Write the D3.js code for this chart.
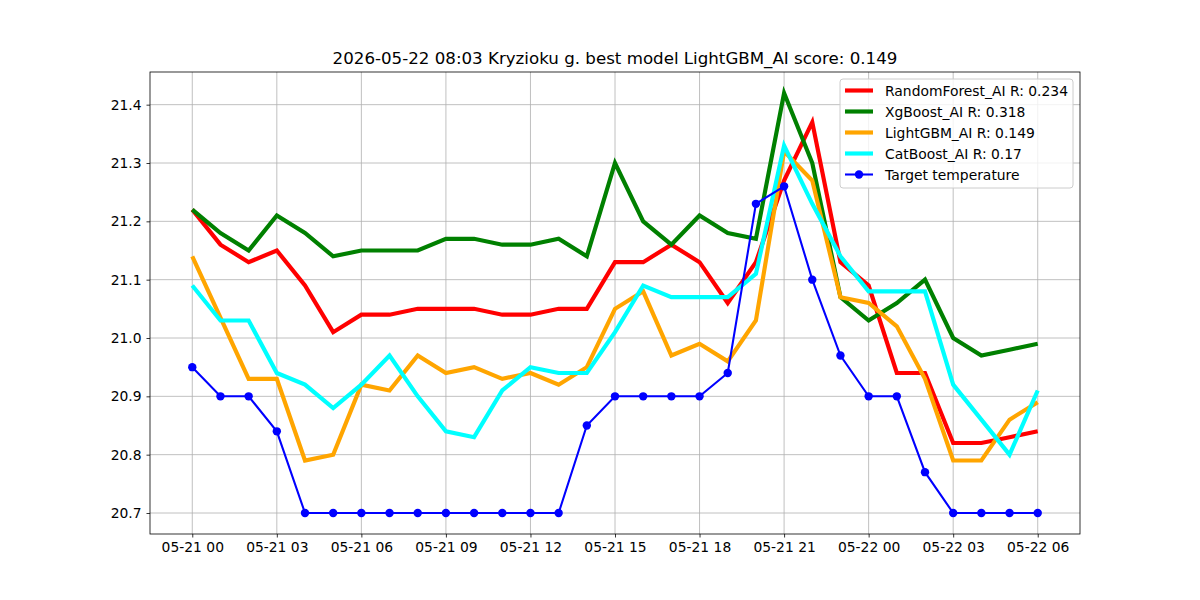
<!DOCTYPE html>
<html>
<head>
<meta charset="utf-8">
<script src="https://cdn.jsdelivr.net/npm/d3@7"></script>
<style>
  body { margin: 0; background: #fff; }
  svg { font-family: "DejaVu Sans", sans-serif; }
</style>
</head>
<body>
<div id="chart"></div>
<script>
// hourly points, 2026-05-21 00:00 .. 2026-05-22 06:00
var startTime = new Date(2026, 4, 21, 0, 0);
var hours = d3.range(31);

var randomForest = [21.22, 21.16, 21.13, 21.15, 21.09, 21.01, 21.04, 21.04, 21.05, 21.05,
  21.05, 21.04, 21.04, 21.05, 21.05, 21.13, 21.13, 21.16, 21.13, 21.06,
  21.13, 21.27, 21.37, 21.13, 21.09, 20.94, 20.94, 20.82, 20.82, 20.83, 20.84];
var xgBoost = [21.22, 21.18, 21.15, 21.21, 21.18, 21.14, 21.15, 21.15, 21.15, 21.17,
  21.17, 21.16, 21.16, 21.17, 21.14, 21.30, 21.20, 21.16, 21.21, 21.18,
  21.17, 21.42, 21.30, 21.07, 21.03, 21.06, 21.10, 21.00, 20.97, 20.98, 20.99];
var lightGBM = [21.14, 21.035, 20.93, 20.93, 20.79, 20.80, 20.92, 20.91, 20.97, 20.94,
  20.95, 20.93, 20.94, 20.92, 20.95, 21.05, 21.08, 20.97, 20.99, 20.96,
  21.03, 21.32, 21.27, 21.07, 21.06, 21.02, 20.93, 20.79, 20.79, 20.86, 20.89];
var catBoost = [21.09, 21.03, 21.03, 20.94, 20.92, 20.88, 20.92, 20.97, 20.90, 20.84,
  20.83, 20.91, 20.95, 20.94, 20.94, 21.01, 21.09, 21.07, 21.07, 21.07,
  21.11, 21.33, 21.23, 21.14, 21.08, 21.08, 21.08, 20.92, 20.86, 20.80, 20.91];
var target = [20.95, 20.90, 20.90, 20.84, 20.70, 20.70, 20.70, 20.70, 20.70, 20.70,
  20.70, 20.70, 20.70, 20.70, 20.85, 20.90, 20.90, 20.90, 20.90, 20.94,
  21.23, 21.26, 21.10, 20.97, 20.90, 20.90, 20.77, 20.70, 20.70, 20.70, 20.70];

var seriesNames = ["RandomForest_AI R: 0.234", "XgBoost_AI R: 0.318", "LightGBM_AI R: 0.149", "CatBoost_AI R: 0.17"];
var seriesColors = ["#ff0000", "#008000", "#ffa500", "#00ffff"];
var targetName = "Target temperature";
var titleText = "2026-05-22 08:03 Kryzioku g. best model LightGBM_AI score: 0.149";
var yTicks = [20.7, 20.8, 20.9, 21.0, 21.1, 21.2, 21.3, 21.4];

var times = hours.map(h => d3.timeHour.offset(startTime, h));
var models = [randomForest, xgBoost, lightGBM, catBoost];

var width = 1200, height = 600;
var margin = {top: 72, right: 120, bottom: 66, left: 150};
var w = width - margin.left - margin.right,
    h = height - margin.top - margin.bottom;
var fs = "13.89px";

var svg = d3.select("#chart").append("svg")
    .attr("width", width)
    .attr("height", height);

var g = svg.append("g")
    .attr("transform", "translate(" + margin.left + "," + margin.top + ")");

// matplotlib-style 5% padding
var t0 = times[0], t1 = times[times.length - 1];
var pad = (t1 - t0) * 0.05;
var x = d3.scaleTime()
    .domain([new Date(+t0 - pad), new Date(+t1 + pad)])
    .range([0, w]);

var allVals = models.flat().concat(target);
var ymin = d3.min(allVals), ymax = d3.max(allVals);
var ypad = (ymax - ymin) * 0.05;
var y = d3.scaleLinear()
    .domain([ymin - ypad, ymax + ypad])
    .range([h, 0]);

var xTicks = times.filter((d, i) => i % 3 === 0);
var fmt = d3.timeFormat("%m-%d %H");

// grid
g.append("g").selectAll("line").data(xTicks).enter().append("line")
    .attr("x1", d => x(d)).attr("x2", d => x(d))
    .attr("y1", 0).attr("y2", h)
    .attr("stroke", "#b0b0b0").attr("stroke-width", 0.8);
g.append("g").selectAll("line").data(yTicks).enter().append("line")
    .attr("x1", 0).attr("x2", w)
    .attr("y1", d => y(d)).attr("y2", d => y(d))
    .attr("stroke", "#b0b0b0").attr("stroke-width", 0.8);

// axes
var xAxis = g.append("g")
    .attr("transform", "translate(0," + h + ")")
    .call(d3.axisBottom(x).tickValues(xTicks).tickFormat(fmt).tickSize(3.5).tickPadding(4.9));
var yAxis = g.append("g")
    .call(d3.axisLeft(y).tickValues(yTicks).tickFormat(d3.format(".1f")).tickSize(3.5).tickPadding(4.9));
[xAxis, yAxis].forEach(a => {
  a.select(".domain").remove();
  a.selectAll("text").attr("font-size", fs).attr("fill", "#000")
    .attr("font-family", "DejaVu Sans, sans-serif");
  a.selectAll("line").attr("stroke", "#000").attr("stroke-width", 0.8);
});

var line = d3.line()
    .x((d, i) => x(times[i]))
    .y(d => y(d));

models.forEach((vals, k) => {
  g.append("path")
    .datum(vals)
    .attr("fill", "none")
    .attr("stroke", seriesColors[k])
    .attr("stroke-width", 4.17)
    .attr("d", line);
});

g.append("path")
  .datum(target)
  .attr("fill", "none")
  .attr("stroke", "#0000ff")
  .attr("stroke-width", 2.08)
  .attr("d", line);
g.append("g").selectAll("circle").data(target).enter().append("circle")
  .attr("cx", (d, i) => x(times[i]))
  .attr("cy", d => y(d))
  .attr("r", 4.2)
  .attr("fill", "#0000ff");

// frame
g.append("rect")
  .attr("width", w).attr("height", h)
  .attr("fill", "none").attr("stroke", "#000").attr("stroke-width", 0.8);

// title
svg.append("text")
  .attr("x", margin.left + w / 2)
  .attr("y", margin.top - 8)
  .attr("text-anchor", "middle")
  .attr("font-size", "16.67px")
  .text(titleText);

// legend
var legW = 233, legH = 109;
var leg = g.append("g")
  .attr("transform", "translate(" + (w - 7 - legW) + ",7)");
leg.append("rect")
  .attr("width", legW).attr("height", legH)
  .attr("rx", 3)
  .attr("fill", "#fff").attr("fill-opacity", 0.8)
  .attr("stroke", "#cccccc").attr("stroke-width", 1);

var legNames = seriesNames.concat([targetName]);
var legColors = seriesColors.concat(["#0000ff"]);
legNames.forEach((name, i) => {
  var ly = 11.5 + i * 21;
  var row = leg.append("g");
  row.append("line")
    .attr("x1", 5).attr("x2", 33)
    .attr("y1", ly).attr("y2", ly)
    .attr("stroke", legColors[i])
    .attr("stroke-width", i < 4 ? 4.17 : 2.08);
  if (i === 4) {
    row.append("circle").attr("cx", 19).attr("cy", ly).attr("r", 4.2).attr("fill", "#0000ff");
  }
  row.append("text")
    .attr("x", 45).attr("y", ly)
    .attr("dy", "0.36em")
    .attr("font-size", fs)
    .text(name);
});
</script>
</body>
</html>
